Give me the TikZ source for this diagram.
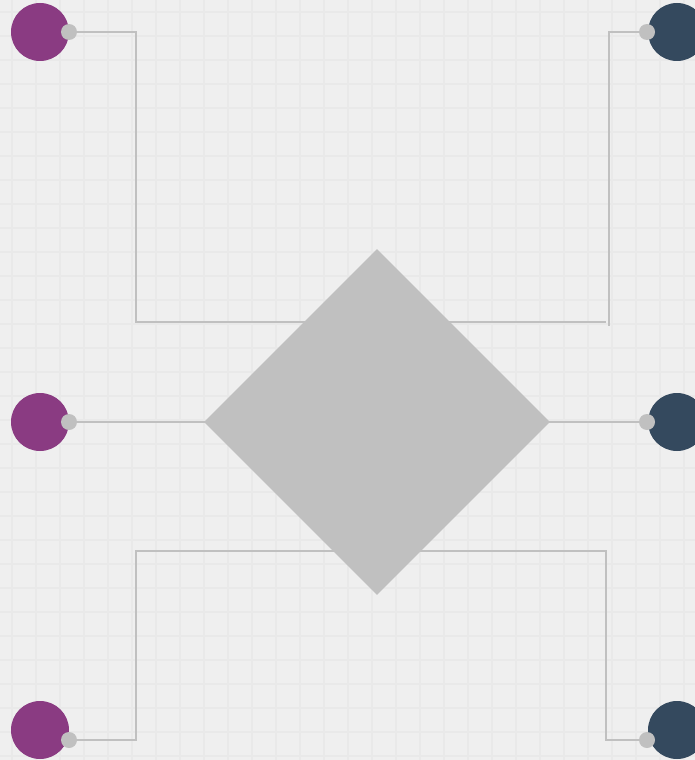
\documentclass[tikz,border=0pt]{standalone}
\usetikzlibrary{shapes.geometric, backgrounds}

\definecolor{paper}{HTML}{EFEFEF}
\definecolor{gridgray}{HTML}{E9E9E9}
\definecolor{silver}{HTML}{C0C0C0}
\definecolor{plum}{HTML}{8A3B82}
\definecolor{asphalt}{HTML}{34495E}

\tikzset{
  port/.style={circle, fill=#1, inner sep=0, minimum size=58pt},
  pin/.style={circle, fill=silver, inner sep=0, minimum size=16pt},
  wire/.style={silver, line width=2.5pt},
}

\begin{document}
\begin{tikzpicture}[x=1pt, y=-1pt]

% --- Canvas ---
\useasboundingbox (0,0) rectangle (695,760);

% --- Central diamond ---
\node[diamond, fill=silver, inner sep=0, minimum width=346pt, minimum height=346pt] (gate) at (377,422) {};

% --- Left ports ---
\node[port=plum] (inA) at (40,32) {};
\node[port=plum] (inB) at (40,422) {};
\node[port=plum] (inC) at (40,730) {};
\node[pin] (pinA) at (69,32) {};
\node[pin] (pinB) at (69,422) {};
\node[pin] (pinC) at (69,740) {};

% --- Right ports ---
\node[port=asphalt] (outA) at (677,32) {};
\node[port=asphalt] (outB) at (677,422) {};
\node[port=asphalt] (outC) at (677,730) {};
\node[pin] (pinD) at (647,32) {};
\node[pin] (pinE) at (647,422) {};
\node[pin] (pinF) at (647,740) {};

% --- Bends ---
\coordinate (bendA) at (136,322);
\coordinate (bendC) at (136,551);
\coordinate (bendD) at (609,326);
\coordinate (endD) at (606,322);
\coordinate (bendF) at (606,551);

\begin{pgfonlayer}{background}
  % grid
  \fill[paper] (0,0) rectangle (695,760);
  \foreach \gx in {12,36,...,695}
    \draw[gridgray, line width=2pt] (\gx,0) -- (\gx,760);
  \foreach \gy in {12,36,...,760}
    \draw[gridgray, line width=2pt] (0,\gy) -- (695,\gy);

  % wires
  \draw[wire] (pinA.center) -| (bendA) -- (bendA -| gate.center);
  \draw[wire] (pinB.center) -- (gate.center);
  \draw[wire] (pinC.center) -| (bendC) -- (bendC -| gate.center);
  \draw[wire] (pinD.center) -| (bendD);
  \draw[wire] (gate.center |- endD) -- (endD);
  \draw[wire] (gate.center) -- (pinE.center);
  \draw[wire] (pinF.center) -| (bendF) -- (bendF -| gate.center);
\end{pgfonlayer}

\end{tikzpicture}
\end{document}
